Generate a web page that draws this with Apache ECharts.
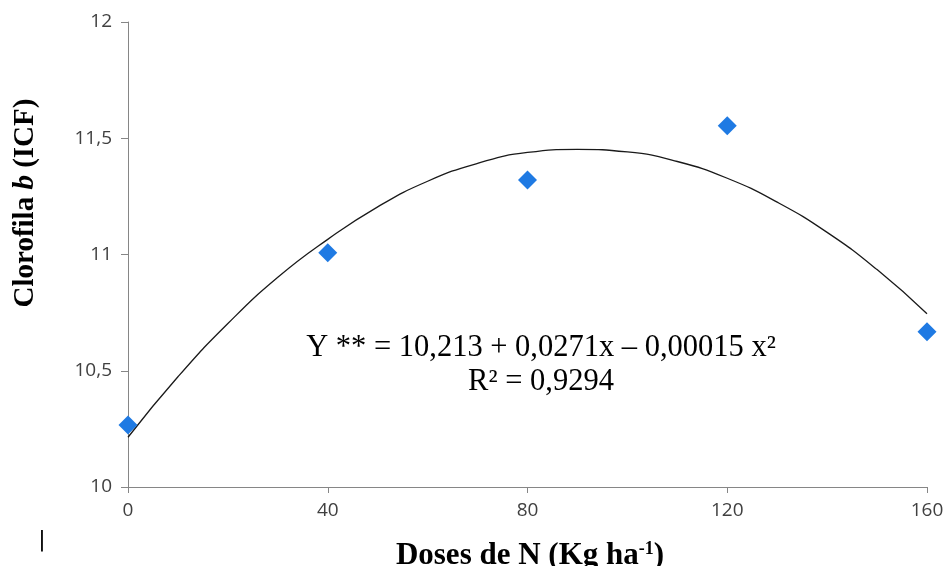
<!DOCTYPE html>
<html><head><meta charset="utf-8">
<script src="https://cdn.jsdelivr.net/npm/echarts@6/dist/echarts.min.js"></script>
<style>html,body{margin:0;padding:0;background:#fff}#c{width:944px;height:566px}</style>
</head><body><div id="c"></div>
<script>
// Observed data
var doses = [0, 40, 80, 120, 160];
var clorofilaB = [10.267, 11.008, 11.32, 11.554, 10.668];
// Trend curve
var curveX = [0, 10, 20, 30, 40, 50, 60, 70, 80, 90, 100, 110, 120, 130, 140, 150, 160];
var curveY = [10.214, 10.474, 10.703, 10.902, 11.065, 11.205, 11.315, 11.392, 11.439, 11.452, 11.441, 11.400, 11.328, 11.225, 11.095, 10.935, 10.745];
var xTicks = [0, 40, 80, 120, 160];
var yTicks = [10, 10.5, 11, 11.5, 12];

var chart = echarts.init(document.getElementById('c'), null, {renderer: 'canvas'});
var axisColor = '#868686';
chart.setOption({
  animation: false,
  grid: {left: 128, right: 17, top: 22, bottom: 79, containLabel: false, outerBoundsMode: 'none'},
  xAxis: {
    type: 'value', min: xTicks[0], max: xTicks[xTicks.length - 1], interval: 40,
    splitLine: {show: false},
    axisLine: {lineStyle: {color: axisColor, width: 1}},
    axisTick: {show: true, length: 6, lineStyle: {color: axisColor}},
    axisLabel: {color: '#404040', fontFamily: 'Open Sans', fontSize: 19, margin: 14}
  },
  yAxis: {
    type: 'value', min: yTicks[0], max: yTicks[yTicks.length - 1], interval: 0.5,
    splitLine: {show: false},
    axisLine: {show: true, lineStyle: {color: axisColor, width: 1}},
    axisTick: {show: true, length: 7, lineStyle: {color: axisColor}},
    axisLabel: {color: '#404040', fontFamily: 'Open Sans', fontSize: 19, margin: 16,
      formatter: function (v) { return String(v).replace('.', ','); }}
  },
  series: [
    {
      type: 'line', smooth: true, showSymbol: false, z: 2,
      data: curveX.map(function (x, i) { return [x, curveY[i]]; }),
      lineStyle: {color: '#1a1a1a', width: 1.3}
    },
    {
      type: 'scatter', symbol: 'diamond', symbolSize: 19, z: 3,
      data: doses.map(function (x, i) { return [x, clorofilaB[i]]; }),
      itemStyle: {color: '#1F7AE3', opacity: 1}
    }
  ],
  graphic: [
    {
      type: 'text', x: 541, y: 348,
      style: {
        text: 'Y ** = 10,213 + 0,0271x – 0,00015 x²',
        font: '30.5px "Liberation Serif"', fill: '#000', align: 'center', verticalAlign: 'middle'
      }
    },
    {
      type: 'text', x: 541, y: 382,
      style: {
        text: 'R² = 0,9294',
        font: '30.5px "Liberation Serif"', fill: '#000', align: 'center', verticalAlign: 'middle'
      }
    },
    {
      type: 'text', x: 26, y: 203, rotation: Math.PI / 2,
      style: {
        text: '{b|Clorofila }{i|b}{b| (ICF)}',
        align: 'center', verticalAlign: 'middle',
        rich: {
          b: {font: 'bold 29px "Liberation Serif"', fill: '#000'},
          i: {font: 'bold italic 29px "Liberation Serif"', fill: '#000'}
        }
      }
    },
    {
      type: 'text', x: 530, y: 556,
      style: {
        text: '{b|Doses de N (Kg ha}{s|-1}{b|)}',
        align: 'center', verticalAlign: 'middle',
        rich: {
          b: {font: 'bold 31px "Liberation Serif"', fill: '#000'},
          s: {font: 'bold 18px "Liberation Serif"', fill: '#000', verticalAlign: 'top', padding: [0, 0, 12, 0]}
        }
      }
    },
    {
      type: 'text', x: 42, y: 540,
      style: {text: '|', font: '22px "DejaVu Sans"', fill: '#000', align: 'center', verticalAlign: 'middle'}
    }
  ]
});
</script></body></html>
